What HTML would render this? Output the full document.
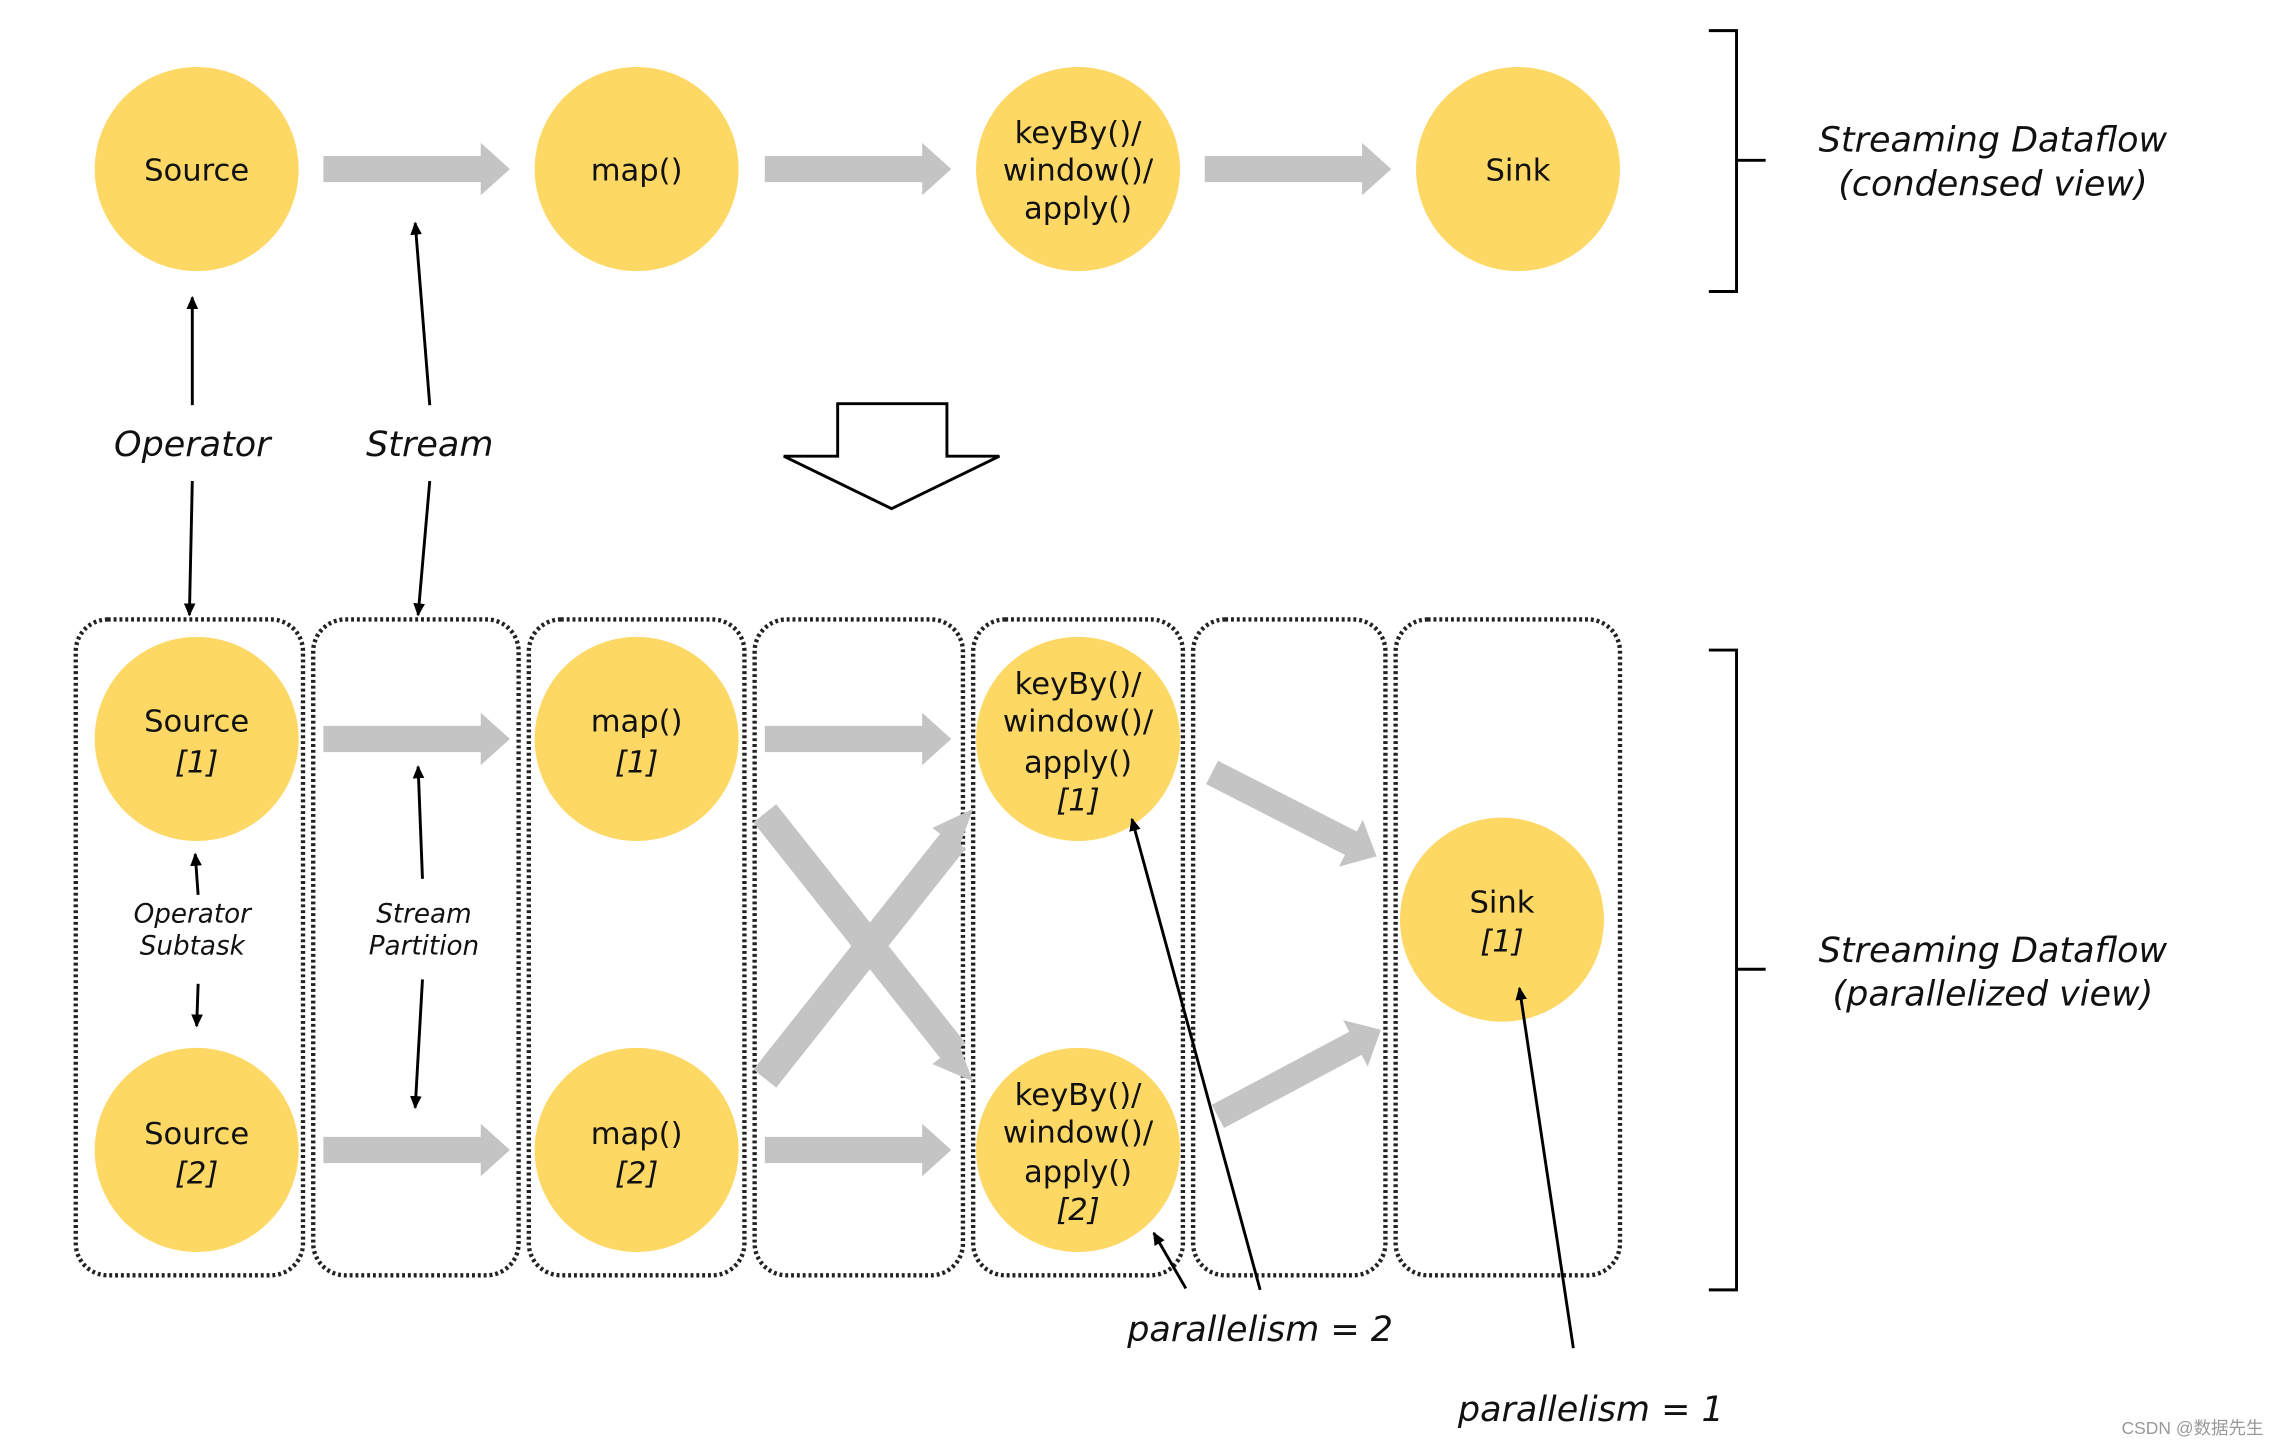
<!DOCTYPE html>
<html><head><meta charset="utf-8"><style>
html,body{margin:0;padding:0;background:#fff;}
svg{display:block;}
text{font-family:"DejaVu Sans","Liberation Sans",sans-serif;fill:#111;}
.c{font-size:21px;text-anchor:middle;}
.i{font-style:italic;}
.lab{font-size:24px;font-style:italic;text-anchor:middle;}
.sm{font-size:18px;font-style:italic;text-anchor:middle;}
</style></head><body>
<svg width="2277" height="1440" viewBox="0 0 1563 988" preserveAspectRatio="none" xmlns="http://www.w3.org/2000/svg">
<defs>
<marker id="ah" markerWidth="10" markerHeight="10" refX="8" refY="5" orient="auto" markerUnits="userSpaceOnUse"><path d="M0,1 L9,5 L0,9 Z" fill="#000"/></marker>
<g id="ga"><polygon points="0,-9 108,-9 108,-18 128,0 108,18 108,9 0,9" fill="#c4c4c4"/></g>
</defs>
<!-- top row -->
<g fill="#fdd865">
<circle cx="135" cy="116" r="70"/><circle cx="437" cy="116" r="70"/><circle cx="740" cy="116" r="70"/><circle cx="1042" cy="116" r="70"/>
</g>
<use href="#ga" x="222" y="116"/><use href="#ga" x="525" y="116"/><use href="#ga" x="827" y="116"/>
<text class="c" x="135" y="124">Source</text>
<text class="c" x="437" y="124">map()</text>
<text class="c" x="740" y="98">keyBy()/</text><text class="c" x="740" y="124">window()/</text><text class="c" x="740" y="150">apply()</text>
<text class="c" x="1042" y="124">Sink</text>
<!-- brace top -->
<path d="M1173,21 H1192 V200 H1173 M1192,110 H1212" fill="none" stroke="#000" stroke-width="2"/>
<text class="lab" x="1368" y="104">Streaming Dataflow</text>
<text class="lab" x="1368" y="134">(condensed view)</text>
<!-- operator/stream -->
<text class="lab" x="132" y="313">Operator</text>
<text class="lab" x="295" y="313">Stream</text>
<g stroke="#000" stroke-width="2" fill="none" marker-end="url(#ah)">
<line x1="132" y1="278" x2="132" y2="204"/>
<line x1="132" y1="330" x2="130" y2="422"/>
<line x1="295" y1="278" x2="285" y2="153"/>
<line x1="295" y1="330" x2="287" y2="422"/>
</g>
<polygon points="575,277 650,277 650,313 686,313 612,349 538,313 575,313" fill="#fff" stroke="#000" stroke-width="2"/>
<!-- dotted boxes -->
<g fill="none" stroke="#222" stroke-width="3" stroke-dasharray="2 2">
<rect x="52" y="425" width="156" height="450" rx="22"/>
<rect x="215" y="425" width="141" height="450" rx="22"/>
<rect x="363" y="425" width="148" height="450" rx="22"/>
<rect x="518" y="425" width="143" height="450" rx="22"/>
<rect x="668" y="425" width="144" height="450" rx="22"/>
<rect x="819" y="425" width="132" height="450" rx="22"/>
<rect x="958" y="425" width="154" height="450" rx="22"/>
</g>
<!-- cross -->
<g stroke="#c4c4c4" stroke-width="20">
<line x1="525" y1="558" x2="655" y2="722"/>
<line x1="525" y1="740" x2="655" y2="576"/>
</g>
<polygon points="668,742 640,730 658,716" fill="#c4c4c4"/>
<polygon points="668,555 658,582 640,568" fill="#c4c4c4"/>
<!-- bottom circles -->
<g fill="#fdd865">
<circle cx="135" cy="507" r="70"/><circle cx="135" cy="789" r="70"/>
<circle cx="437" cy="507" r="70"/><circle cx="437" cy="789" r="70"/>
<circle cx="740" cy="507" r="70"/><circle cx="740" cy="789" r="70"/>
<circle cx="1031" cy="631" r="70"/>
</g>
<use href="#ga" x="222" y="507"/><use href="#ga" x="525" y="507"/>
<use href="#ga" x="222" y="789"/><use href="#ga" x="525" y="789"/>
<use href="#ga" transform="translate(832,530) rotate(27) scale(0.99,1)"/>
<use href="#ga" transform="translate(836,766) rotate(-28) scale(0.99,1)"/>
<text class="c" x="135" y="502">Source</text><text class="c i" x="135" y="530">[1]</text>
<text class="c" x="135" y="785">Source</text><text class="c i" x="135" y="812">[2]</text>
<text class="c" x="437" y="502">map()</text><text class="c i" x="437" y="530">[1]</text>
<text class="c" x="437" y="785">map()</text><text class="c i" x="437" y="812">[2]</text>
<text class="c" x="740" y="476">keyBy()/</text><text class="c" x="740" y="502">window()/</text><text class="c" x="740" y="530">apply()</text><text class="c i" x="740" y="556">[1]</text>
<text class="c" x="740" y="758">keyBy()/</text><text class="c" x="740" y="784">window()/</text><text class="c" x="740" y="811">apply()</text><text class="c i" x="740" y="837">[2]</text>
<text class="c" x="1031" y="626">Sink</text><text class="c i" x="1031" y="653">[1]</text>
<text class="sm" x="132" y="633">Operator</text><text class="sm" x="132" y="655">Subtask</text>
<text class="sm" x="291" y="633">Stream</text><text class="sm" x="291" y="655">Partition</text>
<g stroke="#000" stroke-width="2" fill="none" marker-end="url(#ah)">
<line x1="136" y1="614" x2="134" y2="586"/>
<line x1="136" y1="675" x2="135" y2="704"/>
<line x1="290" y1="603" x2="287" y2="526"/>
<line x1="290" y1="672" x2="285" y2="760"/>
<line x1="865" y1="885" x2="777" y2="562"/>
<line x1="814" y1="884" x2="792" y2="846"/>
<line x1="1080" y1="925" x2="1043" y2="678"/>
</g>
<text class="lab" x="865" y="920">parallelism = 2</text>
<text class="lab" x="1092" y="975">parallelism = 1</text>
<path d="M1173,446 H1192 V885 H1173 M1192,665 H1212" fill="none" stroke="#000" stroke-width="2"/>
<text class="lab" x="1368" y="660">Streaming Dataflow</text>
<text class="lab" x="1368" y="690">(parallelized view)</text>
<text x="1505" y="984" style="font-size:12px;fill:#999;text-anchor:middle;font-family:'Liberation Sans','Noto Sans CJK SC',sans-serif">CSDN @数据先生</text>
</svg>
</body></html>
